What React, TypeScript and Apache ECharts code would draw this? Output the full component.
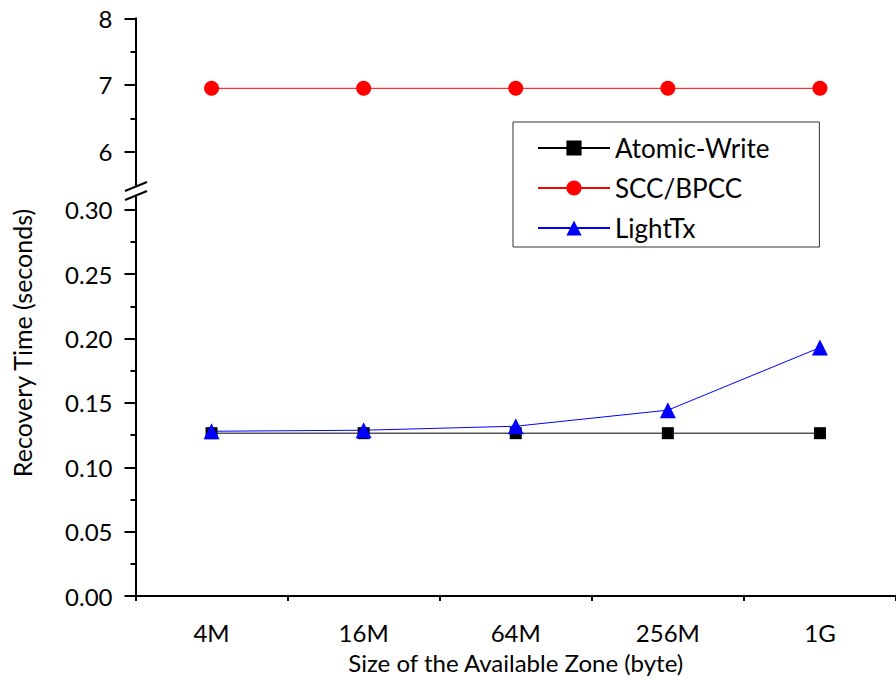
import React, { useEffect, useRef } from "react";
import * as echarts from "echarts";

const categories = ["4M", "16M", "64M", "256M", "1G"];
const atomicWrite = [0.1265, 0.1265, 0.1265, 0.1265, 0.1265];
const sccBpcc = [6.95, 6.95, 6.95, 6.95, 6.95];
const lightTx = [0.128, 0.1288, 0.1319, 0.1444, 0.193];

const lowMajorTicks = [0, 0.05, 0.1, 0.15, 0.2, 0.25, 0.3];
const lowMinorTicks = [0.025, 0.075, 0.125, 0.175, 0.225, 0.275];
const highMajorTicks = [6, 7, 8];
const highMinorTicks = [6.5, 7.5];

const FONT = "Lato";

export default function App() {
  const ref = useRef<HTMLDivElement>(null);
  useEffect(() => {
    if (!ref.current) return;
    const chart = echarts.init(ref.current, null, { renderer: "svg" });
    const axisLine = { show: true, lineStyle: { color: "#000", width: 2 } };
    const labelStyle = { color: "#000", fontFamily: FONT, fontSize: 24 };
    chart.setOption({
      animation: false,
      backgroundColor: "#fff",
      grid: [
        { left: 135.5, top: 197, width: 764, height: 399 },
        { left: 135.5, top: 18.3, width: 764, height: 166.7 },
      ],
      xAxis: [
        {
          type: "category",
          gridIndex: 0,
          data: categories,
          boundaryGap: true,
          axisLine,
          axisTick: { alignWithLabel: true, length: 10, lineStyle: { width: 2, color: "#000" } },
          axisLabel: { ...labelStyle, margin: 24 },
          name: "Size of the Available Zone (byte)",
          nameLocation: "middle",
          nameGap: 54,
          nameTextStyle: { ...labelStyle },
        },
        {
          type: "category",
          gridIndex: 0,
          position: "bottom",
          data: categories,
          boundaryGap: true,
          axisLine: { show: false },
          axisTick: { show: true, length: 5, lineStyle: { width: 2, color: "#000" } },
          axisLabel: { show: false },
        },
        {
          type: "category",
          gridIndex: 1,
          data: categories,
          boundaryGap: true,
          show: false,
        },
      ],
      yAxis: [
        {
          type: "value",
          gridIndex: 0,
          position: "left",
          min: 0,
          max: 0.31,
          axisLine,
          splitLine: { show: false },
          axisTick: { show: true, customValues: lowMajorTicks, length: 11, lineStyle: { width: 2, color: "#000" } },
          axisLabel: {
            ...labelStyle,
            customValues: lowMajorTicks,
            margin: 23,
            formatter: (v: number) => v.toFixed(2),
          },
        },
        {
          type: "value",
          gridIndex: 0,
          position: "left",
          min: 0,
          max: 0.31,
          axisLine: { show: false },
          splitLine: { show: false },
          axisTick: { show: true, customValues: lowMinorTicks, length: 5, lineStyle: { width: 2, color: "#000" } },
          axisLabel: { show: false },
        },
        {
          type: "value",
          gridIndex: 1,
          position: "left",
          min: 5.5,
          max: 8,
          axisLine,
          splitLine: { show: false },
          axisTick: { show: true, customValues: highMajorTicks, length: 11, lineStyle: { width: 2, color: "#000" } },
          axisLabel: {
            ...labelStyle,
            customValues: highMajorTicks,
            margin: 23,
            formatter: (v: number) => String(v),
          },
        },
        {
          type: "value",
          gridIndex: 1,
          position: "left",
          min: 5.5,
          max: 8,
          axisLine: { show: false },
          splitLine: { show: false },
          axisTick: { show: true, customValues: highMinorTicks, length: 5, lineStyle: { width: 2, color: "#000" } },
          axisLabel: { show: false },
        },
      ],
      legend: {
        orient: "vertical",
        left: 513,
        top: 122,
        borderColor: "#333",
        borderWidth: 1,
        padding: [11, 50, 4, 24],
        itemWidth: 72,
        itemHeight: 19,
        itemGap: 10,
        textStyle: { color: "#000", fontFamily: FONT, fontSize: 26, lineHeight: 30 },
        data: ["Atomic-Write", "SCC/BPCC", "LightTx"],
      },
      series: [
        {
          name: "Atomic-Write",
          type: "line",
          xAxisIndex: 0,
          yAxisIndex: 0,
          data: atomicWrite,
          symbol: "rect",
          symbolSize: 12,
          itemStyle: { color: "#000" },
          lineStyle: { color: "#000", width: 1 },
        },
        {
          name: "SCC/BPCC",
          type: "line",
          xAxisIndex: 2,
          yAxisIndex: 2,
          data: sccBpcc,
          symbol: "circle",
          symbolSize: 15,
          itemStyle: { color: "#ff0000" },
          lineStyle: { color: "#ff0000", width: 1 },
        },
        {
          name: "LightTx",
          type: "line",
          xAxisIndex: 0,
          yAxisIndex: 0,
          data: lightTx,
          symbol: "triangle",
          symbolSize: 16,
          itemStyle: { color: "#0000ff" },
          lineStyle: { color: "#0000ff", width: 1 },
        },
      ],
      graphic: [
        {
          type: "line",
          shape: { x1: 125, y1: 191, x2: 147, y2: 182 },
          style: { stroke: "#000", lineWidth: 2 },
        },
        {
          type: "line",
          shape: { x1: 125, y1: 200, x2: 147, y2: 191 },
          style: { stroke: "#000", lineWidth: 2 },
        },
        {
          type: "text",
          x: 22,
          y: 343,
          rotation: Math.PI / 2,
          style: {
            text: "Recovery Time (seconds)",
            fontFamily: FONT,
            fontSize: 25,
            fill: "#000",
            align: "center",
            verticalAlign: "middle",
          },
        },
      ],
    });
    return () => chart.dispose();
  }, []);
  return (
    <div
      ref={ref}
      style={{ position: "fixed", left: 0, top: 0, width: 896, height: 680 }}
    />
  );
}
